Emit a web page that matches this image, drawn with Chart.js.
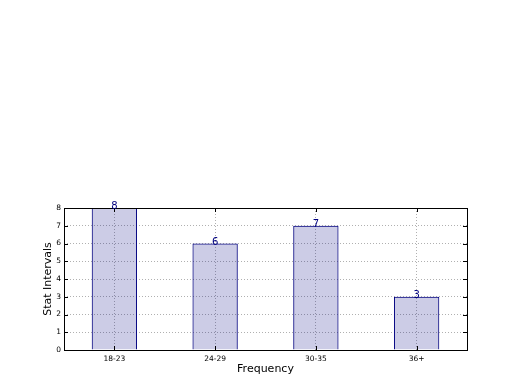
<!DOCTYPE html>
<html lang="en">
<head>
    <meta charset="UTF-8">
    <title>Stat Intervals</title>
    <script src="https://cdn.jsdelivr.net/npm/chart.js"></script>
    <style>
        body { margin: 0; background: #fff; }
        canvas { display: block; }
    </style>
</head>
<body>
    <canvas id="bars" width="520" height="390"></canvas>

    <script>
    var categories = ['18-23', '24-29', '30-35', '36+'];
    var counts = [8, 6, 7, 3];
    var yTicks = [0, 1, 2, 3, 4, 5, 6, 7, 8];

    var navy = '#000080';
    var font = 'DejaVu Sans';

    // frame, inward tick marks and the numbers over the bars
    var extras = {
        id: 'extras',
        afterDatasetsDraw: function(chart){
            var ctx = chart.ctx;
            var a = chart.chartArea;
            var xs = chart.scales.x, ys = chart.scales.y;
            ctx.save();

            ctx.strokeStyle = '#000';
            ctx.lineWidth = 1;
            ctx.beginPath();
            yTicks.forEach(function(v){
                var py = Math.round(ys.getPixelForValue(v)) + 0.5;
                ctx.moveTo(a.left, py); ctx.lineTo(a.left + 4, py);
                ctx.moveTo(a.right, py); ctx.lineTo(a.right - 4, py);
            });
            categories.forEach(function(c, i){
                var px = Math.round(xs.getPixelForValue(i)) + 0.5;
                ctx.moveTo(px, a.bottom); ctx.lineTo(px, a.bottom - 4);
                ctx.moveTo(px, a.top); ctx.lineTo(px, a.top + 4);
            });
            ctx.stroke();

            ctx.strokeRect(Math.round(a.left) + 0.5, Math.round(a.top) + 0.5,
                Math.round(a.right - a.left), Math.round(a.bottom - a.top));

            ctx.fillStyle = navy;
            ctx.font = '10px "' + font + '"';
            ctx.textAlign = 'center';
            ctx.textBaseline = 'alphabetic';
            chart.getDatasetMeta(0).data.forEach(function(bar, i){
                ctx.fillText(String(counts[i]), bar.x, bar.y + 1);
            });
            ctx.restore();
        }
    };

    var ctx = document.getElementById('bars').getContext('2d');
    var myChart = new Chart(ctx, {
        type: 'bar',
        data: {
            labels: categories,
            datasets: [{
                data: counts,
                backgroundColor: 'rgba(0,0,128,0.2)',
                borderColor: navy,
                borderWidth: 1,
                barPercentage: 0.45,
                categoryPercentage: 1.0
            }]
        },
        options: {
            responsive: false,
            animation: false,
            layout: { padding: { top: 208, right: 53, left: 0, bottom: 0 } },
            plugins: {
                legend: { display: false },
                tooltip: { enabled: false }
            },
            scales: {
                x: {
                    offset: true,
                    afterFit: function(s){ s.height = 40; },
                    grid: {
                        offset: false,
                        color: '#b0b0b0',
                        drawTicks: false
                    },
                    border: { display: false, dash: [1, 2] },
                    ticks: {
                        color: '#000',
                        padding: 5,
                        font: { family: font, size: 7.5 }
                    },
                    title: {
                        display: true,
                        text: 'Frequency',
                        color: '#000',
                        font: { family: font, size: 11 },
                        padding: { top: 0, bottom: 14.5 }
                    }
                },
                y: {
                    min: 0,
                    max: 8,
                    afterFit: function(s){ s.width = 64; },
                    afterBuildTicks: function(s){
                        s.ticks = yTicks.map(function(v){ return { value: v }; });
                    },
                    grid: {
                        color: '#b0b0b0',
                        drawTicks: false
                    },
                    border: { display: false, dash: [1, 2] },
                    ticks: {
                        color: '#000',
                        padding: 3,
                        font: { family: font, size: 7.5 }
                    },
                    title: {
                        display: true,
                        text: 'Stat Intervals',
                        color: '#000',
                        font: { family: font, size: 11 },
                        padding: { top: 41.5, bottom: 0 }
                    }
                }
            }
        },
        plugins: [extras]
    });
    </script>
</body>
</html>
